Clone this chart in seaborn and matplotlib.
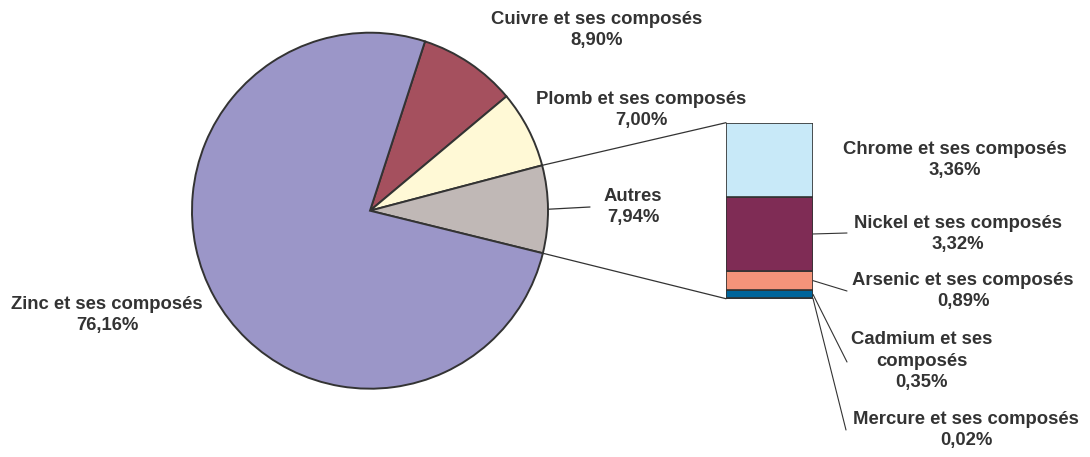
import numpy as np
import matplotlib
matplotlib.use("Agg")
import matplotlib.pyplot as plt
from matplotlib.patches import ConnectionPatch
import seaborn as sns

# ---- data ----
pie_labels = ["Cuivre et ses composés", "Plomb et ses composés", "Autres", "Zinc et ses composés"]
pie_values = [8.90, 7.00, 7.94, 76.16]
pie_colors = ["#A5505E", "#FFF9D6", "#C0B8B6", "#9B96C8"]

bar_labels = ["Chrome et ses composés", "Nickel et ses composés", "Arsenic et ses composés",
              "Cadmium et ses\ncomposés", "Mercure et ses composés"]
bar_values = [3.36, 3.32, 0.89, 0.35, 0.02]
bar_colors = ["#C8E9F8", "#7F2C55", "#F4947A", "#00659B", "#2F3A4A"]

sns.set_theme(style="white")
plt.rcParams['font.family'] = ['Liberation Sans', 'DejaVu Sans']

W, H = 1090, 457
fig = plt.figure(figsize=(W / 100, H / 100), dpi=100)
fig.patch.set_facecolor("white")

def fx(px):
    return px / W

def fy(py):
    return 1 - py / H

TXT = "#333333"
EDGE = "#333333"
FS = 13.3

# ---- pie ----
cx, cy, r = 370, 210.7, 178
ax_pie = fig.add_axes([fx(cx - r), fy(cy + r), 2 * r / W, 2 * r / H])
wedges, _ = ax_pie.pie(pie_values, colors=pie_colors, startangle=72, counterclock=False,
                       wedgeprops=dict(edgecolor=EDGE, linewidth=1.4))
ax_pie.set_xlim(-1, 1)
ax_pie.set_ylim(-1, 1)
ax_pie.set_aspect("auto")
ax_pie.axis("off")

# ---- stacked bar ----
bx0, bx1, by0, by1 = 726, 813, 122.7, 298.7
ax_bar = fig.add_axes([fx(bx0), fy(by1), (bx1 - bx0) / W, (by1 - by0) / H])
bottom = 0.0
seg_centers = []
for v, c in zip(bar_values[::-1], bar_colors[::-1]):
    ax_bar.bar(0, v, width=1.0, bottom=bottom, color=c, edgecolor=EDGE, linewidth=1.2)
    seg_centers.append(bottom + v / 2)
    bottom += v
seg_centers = seg_centers[::-1]
total_bar = sum(bar_values)
ax_bar.set_xlim(-0.5, 0.5)
ax_bar.set_ylim(0, total_bar)
ax_bar.axis("off")

# ---- connection lines from pie to bar ----
ang = 72.0
angles = []
for v in pie_values:
    a0 = ang
    ang -= v / sum(pie_values) * 360
    angles.append((a0, ang))
autres_a0, autres_a1 = angles[2]
for a, yb in [(autres_a0, total_bar), (autres_a1, 0)]:
    p = (np.cos(np.radians(a)), np.sin(np.radians(a)))
    con = ConnectionPatch(xyA=p, coordsA=ax_pie.transData, xyB=(-0.5, yb), coordsB=ax_bar.transData,
                          color=EDGE, linewidth=0.9)
    fig.add_artist(con)

# ---- labels ----
def label(x, y, s, **kw):
    fig.text(fx(x), fy(y), s, ha="center", va="center", fontsize=FS, fontweight="bold",
             color=TXT, linespacing=1.32, **kw)

def pct(v):
    return f"{v:.2f}%".replace(".", ",")

pie_pos = [(597, 30), (641, 110), (633, 207), (107, 315)]
for (x, y), name, v in zip(pie_pos, pie_labels, pie_values):
    label(x, y, name + "\n" + pct(v))

# Autres leader line
mid = np.radians((autres_a0 + autres_a1) / 2)
con = ConnectionPatch(xyA=(np.cos(mid), np.sin(mid)), coordsA=ax_pie.transData,
                      xyB=(fx(590), fy(207)), coordsB=fig.transFigure, color=EDGE, linewidth=0.9)
fig.add_artist(con)

bar_pos = [(955, 160), (958, 234), (963, 291), (922, 361), (966, 430)]
bar_leader_end = [None, (847, 233), (847, 291), (847, 362), (846, 430)]
for (x, y), name, v, yc, end in zip(bar_pos, bar_labels, bar_values, seg_centers, bar_leader_end):
    label(x, y, name + "\n" + pct(v))
    if end is not None:
        con = ConnectionPatch(xyA=(0.5, yc), coordsA=ax_bar.transData,
                              xyB=(fx(end[0]), fy(end[1])), coordsB=fig.transFigure,
                              color=EDGE, linewidth=0.8)
        fig.add_artist(con)

fig.savefig("out.png", dpi=100, facecolor="white")
